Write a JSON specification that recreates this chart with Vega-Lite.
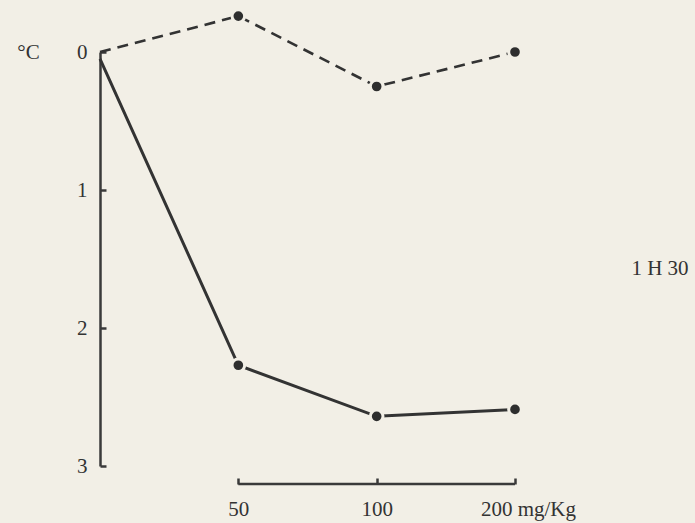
{
  "$schema": "https://vega.github.io/schema/vega-lite/v6.json",
  "width": 415,
  "height": 414,
  "autosize": {"type": "none"},
  "padding": {"left": 100, "top": 52, "right": 180, "bottom": 57},
  "background": "#f2efe6",
  "config": {"view": {"stroke": null}, "font": "Liberation Serif"},
  "datasets": {
    "series": [
      {"dose": "0", "temp": 0, "group": "dashed"},
      {"dose": "50", "temp": -0.26, "group": "dashed"},
      {"dose": "100", "temp": 0.25, "group": "dashed"},
      {"dose": "200", "temp": 0.0, "group": "dashed"},
      {"dose": "0", "temp": 0.05, "group": "solid"},
      {"dose": "50", "temp": 2.27, "group": "solid"},
      {"dose": "100", "temp": 2.64, "group": "solid"},
      {"dose": "200", "temp": 2.59, "group": "solid"}
    ],
    "xline": [{"dose": "50", "dose_end": "200"}],
    "notes": [{"dose": "200", "note": "1 H 30"}]
  },
  "layer": [
    {
      "data": {"name": "series"},
      "transform": [{"filter": "datum.group == 'dashed'"}],
      "mark": {"type": "line", "color": "#333333", "strokeWidth": 2.6, "strokeDash": [11, 7]},
      "encoding": {
        "x": {
          "field": "dose",
          "type": "ordinal",
          "sort": ["0", "50", "100", "200"],
          "scale": {"type": "point", "domain": ["0", "50", "100", "200"], "padding": 0},
          "axis": {
            "orient": "bottom",
            "offset": 18,
            "domain": false,
            "values": ["50", "100", "200"],
            "tickSize": -6,
            "tickWidth": 2.5,
            "tickColor": "#3a3a3a",
            "labelAngle": 0,
            "labelFontSize": 21,
            "labelColor": "#333333",
            "labelPadding": 20,
            "labelExpr": "datum.value == '200' ? '200 mg/Kg' : datum.value",
            "labelOffset": {"condition": {"test": "datum.value == '200'", "value": 13}, "value": 0},
            "title": null
          }
        },
        "y": {
          "field": "temp",
          "type": "quantitative",
          "scale": {"domain": [0, 3], "reverse": true, "nice": false, "zero": false},
          "axis": {
            "values": [0, 1, 2, 3],
            "format": "d",
            "grid": false,
            "domainWidth": 2.5,
            "domainColor": "#3a3a3a",
            "tickSize": -6,
            "tickWidth": 2.5,
            "tickColor": "#3a3a3a",
            "labelFontSize": 21,
            "labelColor": "#333333",
            "labelPadding": 19,
            "title": "°C",
            "titleAngle": 0,
            "titleFontSize": 21,
            "titleFontWeight": "normal",
            "titleColor": "#333333",
            "titleX": -72,
            "titleY": 0,
            "titleAlign": "center",
            "titleBaseline": "middle"
          }
        }
      }
    },
    {
      "data": {"name": "series"},
      "transform": [{"filter": "datum.group == 'solid'"}],
      "mark": {"type": "line", "color": "#333333", "strokeWidth": 3},
      "encoding": {
        "x": {"field": "dose", "type": "ordinal"},
        "y": {"field": "temp", "type": "quantitative"}
      }
    },
    {
      "data": {"name": "series"},
      "transform": [{"filter": "datum.dose != '0'"}],
      "mark": {"type": "point", "shape": "circle", "filled": true, "size": 160, "fill": "#2e2e2e", "stroke": "#f2efe6", "strokeWidth": 3, "opacity": 1},
      "encoding": {
        "x": {"field": "dose", "type": "ordinal"},
        "y": {"field": "temp", "type": "quantitative"}
      }
    },
    {
      "data": {"name": "xline"},
      "mark": {"type": "rule", "color": "#3a3a3a", "strokeWidth": 2.5},
      "encoding": {
        "x": {"field": "dose", "type": "ordinal"},
        "x2": {"field": "dose_end"},
        "y": {"datum": 3.13, "type": "quantitative"}
      }
    },
    {
      "data": {"name": "notes"},
      "mark": {"type": "text", "fontSize": 21, "color": "#333333", "align": "center", "baseline": "middle", "dx": 145},
      "encoding": {
        "x": {"field": "dose", "type": "ordinal"},
        "y": {"datum": 1.57, "type": "quantitative"},
        "text": {"field": "note"}
      }
    }
  ]
}
